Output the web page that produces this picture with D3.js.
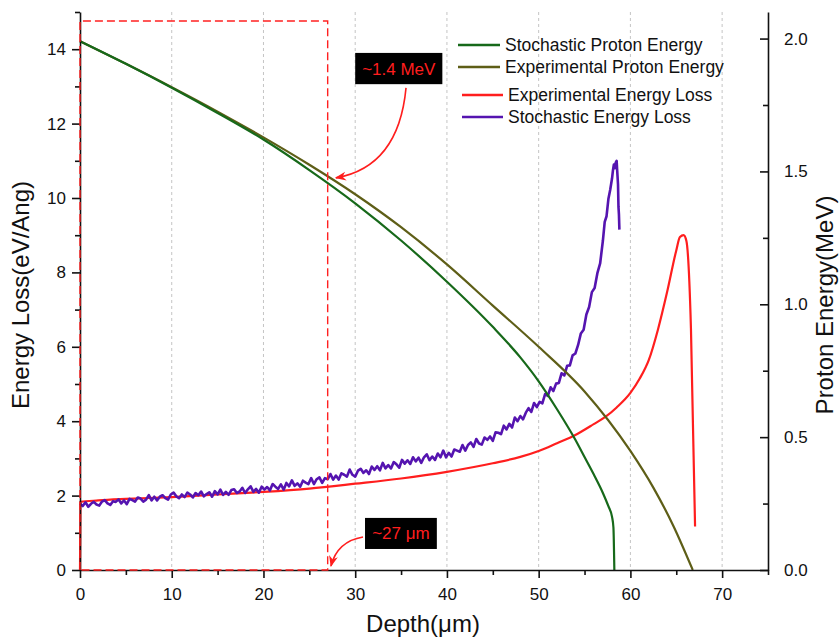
<!DOCTYPE html>
<html>
<head>
<meta charset="utf-8">
<script src="https://cdn.jsdelivr.net/npm/d3@7"></script>
<style>
  html, body { margin: 0; padding: 0; background: #fff; }
  svg { display: block; font-family: "Liberation Sans", Arial, Helvetica, sans-serif; }
</style>
</head>
<body>
<svg id="chart" width="839" height="639"></svg>
<script>
// ---- Data -------------------------------------------------------------
// Proton energy (MeV) versus depth (µm)
const stochEnergyDepth = [0, 5, 10, 15, 20, 25, 30, 35, 40, 45, 48, 50, 52, 54, 55, 56, 57, 57.6, 58.0, 58.15, 58.25];
const stochEnergy      = [1.99, 1.905, 1.815, 1.72, 1.62, 1.505, 1.38, 1.24, 1.085, 0.915, 0.80, 0.71, 0.605, 0.49, 0.425, 0.36, 0.29, 0.24, 0.20, 0.16, 0.0];

const expEnergyDepth = [0, 5, 10, 15, 20, 25, 30, 35, 40, 45, 50, 55, 60, 62.5, 64.7, 66.8];
const expEnergy      = [1.99, 1.905, 1.817, 1.725, 1.628, 1.525, 1.414, 1.29, 1.15, 0.995, 0.84, 0.672, 0.448, 0.31, 0.165, 0.0];

// Energy loss (eV/Ang) versus depth (µm)
const expLossDepth = [0, 0.05, 2, 5, 10, 15, 20, 25, 30, 35, 40, 45, 48, 50, 52, 54, 56, 57.3, 58.5, 60, 61, 62, 63, 64, 65, 65.4, 65.8, 66.1, 66.6, 67.05];
const expLoss      = [0, 1.83, 1.87, 1.91, 1.96, 2.03, 2.10, 2.19, 2.32, 2.46, 2.64, 2.87, 3.04, 3.20, 3.41, 3.63, 3.92, 4.12, 4.37, 4.76, 5.14, 5.64, 6.46, 7.47, 8.59, 8.95, 9.0, 8.85, 6.5, 1.17];

// Stochastic energy loss sampled every 0.3 µm from 0 to 54 µm
const stochLossStep = 0.3;
const stochLossGrid = [
  1.78, 1.72, 1.82, 1.70, 1.78, 1.83, 1.76, 1.73, 1.84, 1.88,
  1.79, 1.75, 1.85, 1.83, 1.90, 1.79, 1.87, 1.77, 1.91, 1.88,
  1.84, 1.95, 1.92, 1.84, 1.89, 2.01, 1.87, 1.97, 1.87, 1.97,
  2.01, 1.93, 1.89, 2.03, 2.08, 1.98, 1.93, 2.03, 1.96, 2.08,
  2.03, 1.95, 2.07, 2.01, 2.11, 1.98, 2.04, 2.09, 1.97, 2.12,
  2.03, 2.16, 2.02, 2.10, 2.02, 2.15, 2.17, 2.07, 2.11, 2.21,
  2.07, 2.17, 2.25, 2.10, 2.18, 2.08, 2.24, 2.16, 2.23, 2.14,
  2.31, 2.24, 2.18, 2.30, 2.16, 2.34, 2.25, 2.41, 2.26, 2.33,
  2.24, 2.40, 2.35, 2.31, 2.47, 2.31, 2.44, 2.49, 2.34, 2.47,
  2.44, 2.58, 2.43, 2.54, 2.43, 2.60, 2.56, 2.51, 2.70, 2.56,
  2.51, 2.67, 2.72, 2.61, 2.68, 2.58, 2.78, 2.69, 2.79, 2.68,
  2.88, 2.73, 2.82, 2.73, 2.90, 2.84, 2.75, 2.96, 2.86, 2.95,
  2.85, 3.03, 2.92, 3.02, 2.88, 3.03, 3.11, 2.95, 3.05, 2.96,
  3.13, 3.03, 3.21, 3.03, 3.15, 3.05, 3.24, 3.21, 3.18, 3.36,
  3.21, 3.36, 3.43, 3.31, 3.52, 3.40, 3.37, 3.56, 3.50, 3.59,
  3.47, 3.70, 3.69, 3.65, 3.88, 3.78, 3.93, 3.83, 4.10, 4.00,
  4.14, 4.05, 4.23, 4.35, 4.25, 4.49, 4.38, 4.52, 4.48, 4.73,
  4.68, 4.91, 4.81, 5.01, 5.03, 5.29, 5.23, 5.49, 5.50, 5.77,
  5.82
];
// Bragg-peak tail of the stochastic energy loss, [depth, loss]
const stochLossTail = [
  [54.3, 6.05], [54.6, 6.36], [54.9, 6.46], [55.2, 6.87], [55.5, 7.07],
  [55.8, 7.47], [56.1, 7.58], [56.4, 7.98], [56.7, 8.24], [57.0, 8.85],
  [57.2, 9.36], [57.4, 9.51], [57.6, 9.97], [57.8, 10.22], [58.0, 10.53],
  [58.1, 10.75], [58.2, 10.9], [58.3, 10.8], [58.4, 10.95], [58.5, 11.0],
  [58.55, 10.78], [58.65, 10.37], [58.7, 9.76], [58.75, 9.56], [58.8, 9.15]
];

// Axes ticks
const depthTicks = [0, 10, 20, 30, 40, 50, 60, 70];
const depthMinorTicks = [5, 15, 25, 35, 45, 55, 65, 75];
const lossTicks = [0, 2, 4, 6, 8, 10, 12, 14];
const lossMinorTicks = [1, 3, 5, 7, 9, 11, 13, 15];
const energyTicks = [0, 0.5, 1.0, 1.5, 2.0];
const energyMinorTicks = [0.25, 0.75, 1.25, 1.75];

// Legend entries
const legendNames = ["Stochastic Proton Energy", "Experimental Proton Energy", "Experimental Energy Loss", "Stochastic Energy Loss"];
const legendColors = ["#17691a", "#5e5e17", "#ff1e1e", "#5514b0"];

// Marked penetration point
const markDepth = 27;
const markTopLoss = 14.76;

// ---- Layout -----------------------------------------------------------
const svg = d3.select("#chart");
const plotLeft = 80, plotRight = 768, plotTop = 12, plotBottom = 570;

const x = d3.scaleLinear().domain([0, 75]).range([plotLeft, plotRight]);
const yL = d3.scaleLinear().domain([0, 15]).range([plotBottom, plotTop]);
const yR = d3.scaleLinear().domain([0, 2.1]).range([plotBottom, plotTop]);

const zip = (a, b) => a.map((v, i) => [v, b[i]]);

// vertical dashed grid
svg.append("g")
  .selectAll("line")
  .data(depthTicks.filter(d => d > 0))
  .join("line")
  .attr("x1", d => x(d)).attr("x2", d => x(d))
  .attr("y1", plotTop).attr("y2", plotBottom)
  .attr("stroke", "#c4c4c4").attr("stroke-width", 1)
  .attr("stroke-dasharray", "3,3");

// ---- Curves -----------------------------------------------------------
const lineE = d3.line().x(d => x(d[0])).y(d => yR(d[1])).curve(d3.curveMonotoneX);
const lineL = d3.line().x(d => x(d[0])).y(d => yL(d[1])).curve(d3.curveMonotoneX);
const lineRaw = d3.line().x(d => x(d[0])).y(d => yL(d[1]));

const stochLoss = stochLossGrid.map((v, i) => [+(i * stochLossStep).toFixed(2), v]).concat(stochLossTail);

svg.append("path").datum(zip(expLossDepth, expLoss))
  .attr("d", lineL).attr("fill", "none")
  .attr("stroke", legendColors[2]).attr("stroke-width", 2.2);

svg.append("path").datum(stochLoss)
  .attr("d", lineRaw).attr("fill", "none")
  .attr("stroke", legendColors[3]).attr("stroke-width", 2.6)
  .attr("stroke-linejoin", "round");

svg.append("path").datum(zip(expEnergyDepth, expEnergy))
  .attr("d", lineE).attr("fill", "none")
  .attr("stroke", legendColors[1]).attr("stroke-width", 2.2);

svg.append("path").datum(zip(stochEnergyDepth, stochEnergy))
  .attr("d", lineE).attr("fill", "none")
  .attr("stroke", legendColors[0]).attr("stroke-width", 2.2);

// ---- Axes -------------------------------------------------------------
const tickFont = "17px";

const gx = svg.append("g").attr("transform", `translate(0,${plotBottom})`)
  .call(d3.axisBottom(x).tickValues(depthTicks).tickSize(8).tickSizeOuter(0).tickPadding(10));
svg.append("g").attr("transform", `translate(0,${plotBottom})`)
  .call(d3.axisBottom(x).tickValues(depthMinorTicks).tickSize(5).tickSizeOuter(0).tickFormat(""))
  .select(".domain").remove();

const gl = svg.append("g").attr("transform", `translate(${plotLeft},0)`)
  .call(d3.axisLeft(yL).tickValues(lossTicks).tickSize(8).tickSizeOuter(0).tickPadding(6));
svg.append("g").attr("transform", `translate(${plotLeft},0)`)
  .call(d3.axisLeft(yL).tickValues(lossMinorTicks).tickSize(5).tickSizeOuter(0).tickFormat(""))
  .select(".domain").remove();

const gr = svg.append("g").attr("transform", `translate(${plotRight},0)`)
  .call(d3.axisRight(yR).tickValues(energyTicks).tickSize(-8).tickSizeOuter(0).tickPadding(16)
    .tickFormat(d3.format(".1f")));
svg.append("g").attr("transform", `translate(${plotRight},0)`)
  .call(d3.axisRight(yR).tickValues(energyMinorTicks).tickSize(-5).tickSizeOuter(0).tickFormat(""))
  .select(".domain").remove();

[gx, gl, gr].forEach(g => {
  g.selectAll("text").attr("font-size", tickFont).attr("fill", "#111")
    .attr("font-family", "'Liberation Sans', Arial, sans-serif");
  g.selectAll("line, path").attr("stroke", "#111").attr("stroke-width", 1.6);
});
svg.selectAll(".tick line").attr("stroke", "#111").attr("stroke-width", 1.6);

// axis titles
svg.append("text").attr("x", 423).attr("y", 632)
  .attr("text-anchor", "middle").attr("font-size", "24px").attr("fill", "#111")
  .text("Depth(μm)");
svg.append("text").attr("transform", "translate(29,295) rotate(-90)")
  .attr("text-anchor", "middle").attr("font-size", "24px").attr("fill", "#111")
  .text("Energy Loss(eV/Ang)");
svg.append("text").attr("transform", "translate(833,305) rotate(-90)")
  .attr("text-anchor", "middle").attr("font-size", "24px").attr("fill", "#111")
  .text("Proton Energy(MeV)");

// ---- Penetration marker (dashed box) ----------------------------------
svg.append("path")
  .attr("d", `M${x(0)},${yL(0)} L${x(0)},${yL(markTopLoss)} L${x(markDepth)},${yL(markTopLoss)} L${x(markDepth)},${yL(0)} Z`)
  .attr("fill", "none").attr("stroke", "#ff2020").attr("stroke-width", 1.4)
  .attr("stroke-dasharray", "8,4");

// ---- Annotations ------------------------------------------------------
svg.append("defs").append("marker")
  .attr("id", "arrowhead").attr("viewBox", "0 0 10 10")
  .attr("refX", 9).attr("refY", 5)
  .attr("markerWidth", 7).attr("markerHeight", 7)
  .attr("orient", "auto")
  .append("path").attr("d", "M0,1 L10,5 L0,9 L3,5 Z").attr("fill", "#ff1e1e");

const notes = [
  { text: "~1.4 MeV", box: [30.0, 13.9, 39.5, 13.06],
    arrow: [[35.54, 12.96], [34.9, 11.29], [31.6, 10.70], [27.9, 10.54]] },
  { text: "~27 μm", box: [31.07, 1.40, 38.9, 0.565],
    arrow: [[30.85, 0.887], [28.9, 0.806], [27.8, 0.538], [27.36, 0.108]] }
];

notes.forEach(n => {
  const [d0, v0, d1, v1] = n.box;
  svg.append("rect")
    .attr("x", x(d0)).attr("y", yL(v0))
    .attr("width", x(d1) - x(d0)).attr("height", yL(v1) - yL(v0))
    .attr("fill", "#000");
  svg.append("text")
    .attr("x", (x(d0) + x(d1)) / 2).attr("y", (yL(v0) + yL(v1)) / 2 + 6)
    .attr("text-anchor", "middle").attr("font-size", "17px").attr("fill", "#ff1e1e")
    .text(n.text);
  const p = n.arrow.map(a => [x(a[0]), yL(a[1])]);
  svg.append("path")
    .attr("d", `M${p[0]} C${p[1]} ${p[2]} ${p[3]}`)
    .attr("fill", "none").attr("stroke", "#ff1e1e").attr("stroke-width", 1.6)
    .attr("marker-end", "url(#arrowhead)");
});

// ---- Legend -----------------------------------------------------------
const legendRows = [
  { y: 45, x0: 458, x1: 500, tx: 505 },
  { y: 67, x0: 458, x1: 500, tx: 505 },
  { y: 95, x0: 462, x1: 503, tx: 508 },
  { y: 117, x0: 462, x1: 503, tx: 508 }
];
const legend = svg.append("g");
legendNames.forEach((name, i) => {
  const r = legendRows[i];
  legend.append("line").attr("x1", r.x0).attr("x2", r.x1).attr("y1", r.y).attr("y2", r.y)
    .attr("stroke", legendColors[i]).attr("stroke-width", 2.4);
  legend.append("text").attr("x", r.tx).attr("y", r.y + 6)
    .attr("font-size", "17.5px").attr("fill", "#111").text(name);
});
</script>
</body>
</html>
